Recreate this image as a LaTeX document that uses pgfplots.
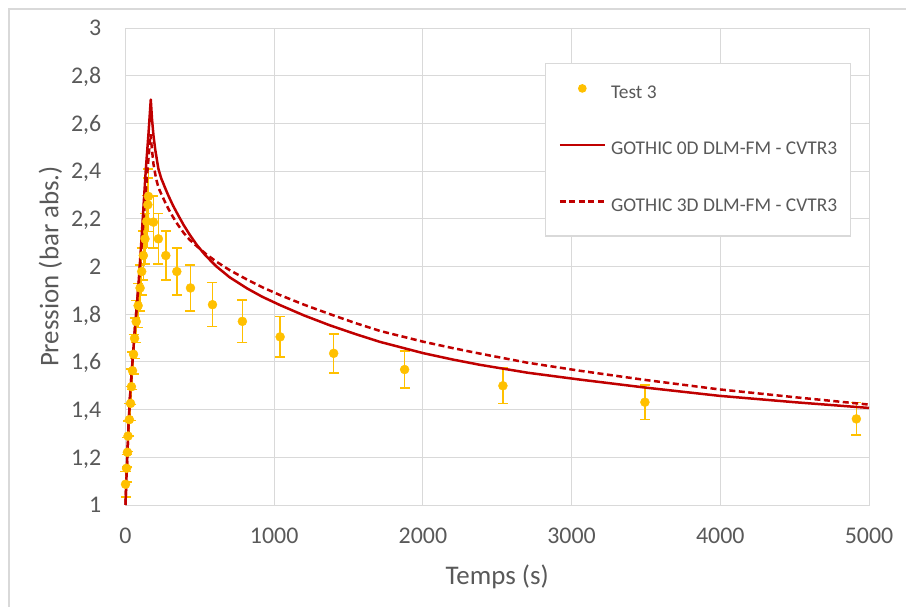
\documentclass[border=0pt]{standalone}
\usepackage{pgfplots}
\pgfplotsset{compat=1.18}
\usepackage{fontspec}
\setmainfont{Carlito}
\definecolor{testc}{HTML}{FFC000}
\definecolor{simc}{HTML}{C00000}
\definecolor{gridc}{HTML}{D9D9D9}
\definecolor{txtc}{HTML}{595959}
\begin{document}
\begin{tikzpicture}
\path[use as bounding box] (0,0) rectangle (906bp,-607bp);
\draw[gridc, line width=1.2bp] (9bp,-607bp) -- (9bp,-9bp) -- (906bp,-9bp);
\begin{axis}[
  at={(125.5bp,-505bp)}, anchor=south west,
  width=743.5bp, height=477bp, scale only axis,
  xmin=0, xmax=5000, ymin=1, ymax=3,
  clip=false,
  xtick={0,1000,2000,3000,4000,5000},
  ytick={1,1.2,1.4,1.6,1.8,2,2.2,2.4,2.6,2.8,3},
  grid=major,
  major grid style={gridc, line width=1bp},
  axis line style={gridc, line width=1bp},
  major tick length=0pt,
  scaled x ticks=false,
  /pgf/number format/assume math mode=true,
  tick label style={font=\fontsize{24}{28}\selectfont, text=txtc},
  y tick label style={/pgf/number format/use comma, /pgf/number format/fixed, /pgf/number format/precision=1, anchor=east, inner sep=0pt, text depth=0pt, xshift=-24bp},
  x tick label style={/pgf/number format/1000 sep={}, anchor=north, inner sep=0pt, yshift=-23bp},
  xlabel={Temps (s)},
  ylabel={Pression (bar abs.)},
  every axis x label/.style={at={(axis description cs:0.5,-0.151)}, anchor=center, font=\fontsize{27}{32}\selectfont, text=txtc},
  every axis y label/.style={at={(axis description cs:-0.101,0.5)}, anchor=center, rotate=90, font=\fontsize{27}{32}\selectfont, text=txtc},
  legend style={at={(axis description cs:0.5642,0.9266)}, anchor=north west,
    draw=gridc, line width=1.2bp, fill=white,
    font=\fontsize{19.5}{23}\selectfont, text=txtc,
    inner xsep=13bp, inner ysep=20.5bp, row sep=38.5bp, column sep=5bp,
    nodes={inner sep=0pt, text height=14bp, text depth=4bp}},
  legend cell align=left,
]
\addplot[only marks, mark=*, mark size=4.5bp, color=testc, mark options={fill=testc, draw=testc},
  legend image code/.code={\fill[testc] (22.5bp,5bp) circle (3.7bp);},
  error bars/.cd, y dir=both, y explicit,
  error bar style={testc, line width=1.5bp},
  error mark options={rotate=90, mark size=5bp, line width=1.5bp, testc}]
  table[x=x, y=y, y error=e] {
x y e
0 1.087 0.054
7 1.154 0.058
13 1.221 0.061
17 1.289 0.064
26 1.358 0.068
34 1.426 0.071
40 1.496 0.075
47 1.563 0.078
54 1.632 0.082
61 1.699 0.085
72 1.769 0.088
85 1.836 0.092
98 1.910 0.096
109 1.979 0.099
120 2.046 0.102
131 2.116 0.106
143 2.189 0.109
150 2.259 0.113
154 2.294 0.115
188 2.186 0.109
221 2.116 0.106
271 2.046 0.102
345 1.979 0.099
437 1.910 0.096
585 1.840 0.092
786 1.770 0.089
1040 1.705 0.085
1400 1.636 0.082
1877 1.568 0.078
2538 1.500 0.075
3493 1.431 0.072
4915 1.361 0.068
};
\addlegendentry{Test 3}
\addplot[simc, line width=2.5bp, line join=round,
  legend image code/.code={\draw[simc, line width=2.5bp] (0bp,5bp) -- (45bp,5bp);}]
  table {
0 1.00
5 1.09
12 1.20
20 1.33
30 1.45
42 1.56
55 1.67
70 1.79
88 1.93
105 2.09
120 2.24
137 2.41
155 2.56
170 2.70
178 2.62
188 2.55
200 2.49
221 2.41
240 2.37
266 2.33
290 2.295
320 2.255
350 2.22
390 2.175
430 2.135
480 2.09
540 2.045
612 2.00
700 1.955
818 1.908
920 1.873
1040 1.838
1200 1.795
1376 1.753
1550 1.716
1711 1.684
2000 1.637
2200 1.61
2382 1.588
2700 1.555
3054 1.526
3500 1.492
3990 1.458
4500 1.431
5000 1.407
};
\addlegendentry{GOTHIC 0D DLM-FM - CVTR3}
\addplot[simc, line width=2.5bp, dash pattern=on 6bp off 3.5bp,
  legend image code/.code={\draw[simc, line width=2.5bp, dash pattern=on 6bp off 3.5bp] (0bp,5bp) -- (45bp,5bp);}]
  table {
0 1.00
5 1.09
12 1.20
20 1.33
30 1.45
42 1.56
55 1.67
70 1.79
88 1.92
105 2.06
125 2.22
145 2.38
168 2.555
178 2.49
188 2.43
205 2.37
222 2.33
240 2.305
266 2.27
290 2.24
320 2.207
350 2.177
390 2.142
430 2.113
480 2.085
540 2.053
612 2.02
700 1.985
818 1.945
920 1.913
1040 1.88
1200 1.84
1376 1.80
1550 1.762
1711 1.73
2000 1.685
2200 1.658
2382 1.635
2700 1.597
3054 1.563
3500 1.524
3990 1.485
4500 1.452
5000 1.421
};
\addlegendentry{GOTHIC 3D DLM-FM - CVTR3}
\end{axis}
\end{tikzpicture}
\end{document}
